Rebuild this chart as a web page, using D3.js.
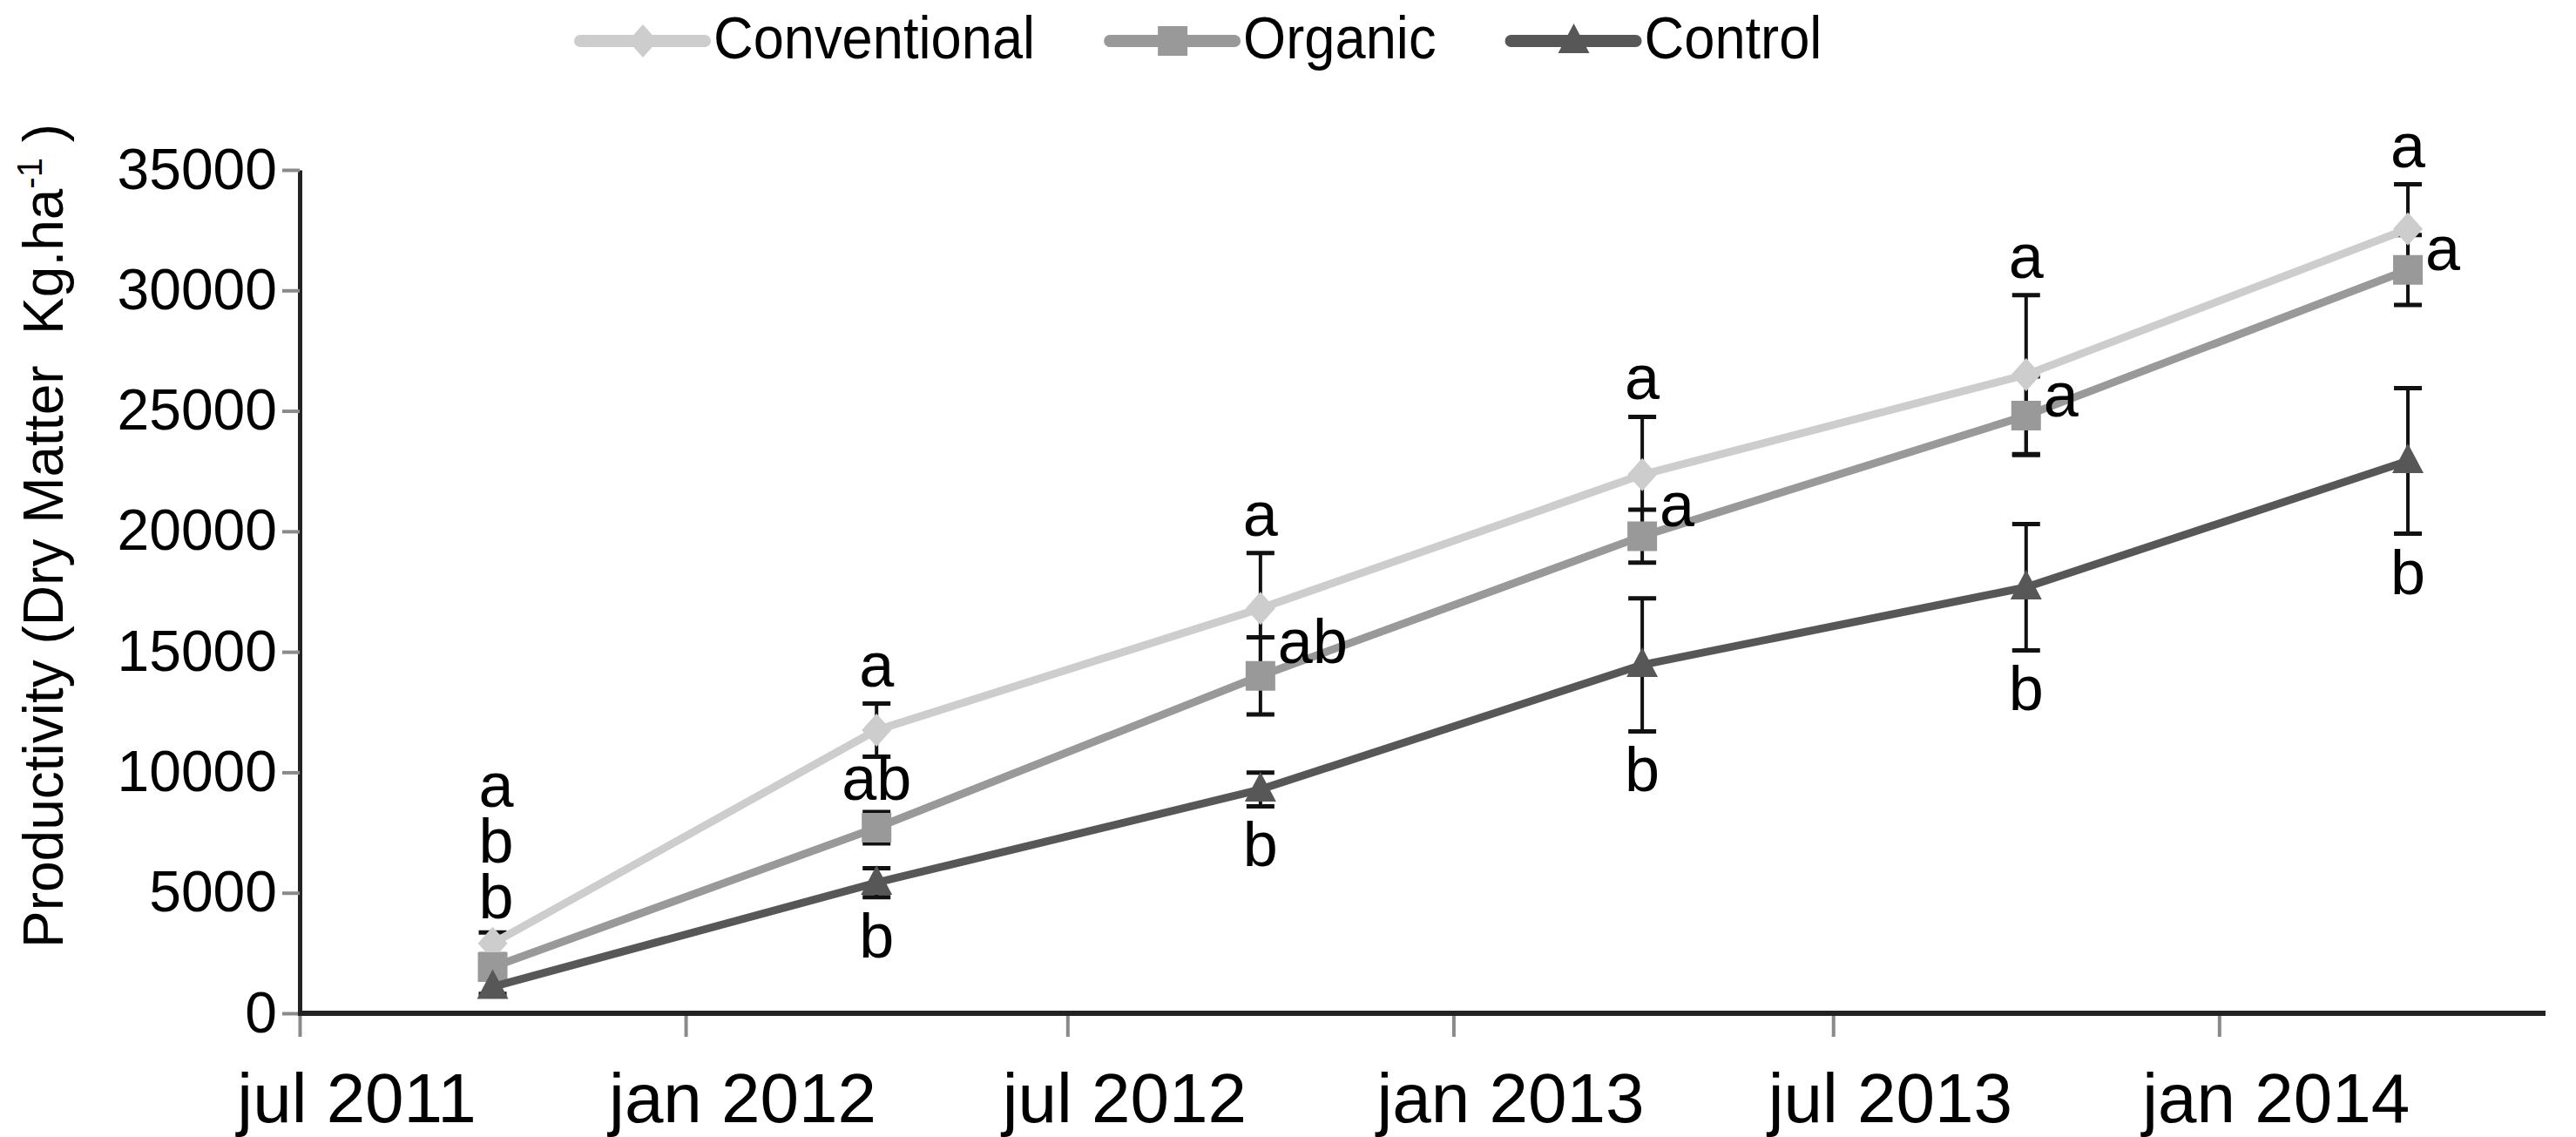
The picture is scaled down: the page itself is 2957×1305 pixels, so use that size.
<!DOCTYPE html>
<html>
<head>
<meta charset="utf-8">
<script src="https://cdn.jsdelivr.net/npm/d3@7"></script>
<style>
  body { margin: 0; background: #fff; }
  svg { display: block; }
  text { font-family: "Liberation Sans", Arial, sans-serif; white-space: pre; }
</style>
</head>
<body>
<div id="chart"></div>
<script>
(function(){

// ---- data ----
const dates = ["2011-10-01", "2012-04-01", "2012-10-01", "2013-04-01", "2013-10-01", "2014-04-01"];
const seriesNames = ["Conventional", "Organic", "Control"];

const conventional    = [2900, 11750, 16800, 22350, 26500, 32550];
const conventionalErr = [450, 1100, 2300, 2400, 3300, 1850];
const organic         = [1920, 7700, 14000, 19800, 24800, 30850];
const organicErr      = [500, 650, 1600, 1100, 1630, 1450];
const control         = [1100, 5420, 9290, 14460, 17680, 22920];
const controlErr      = [300, 600, 700, 2760, 2620, 3020];

const conventionalLetters = ["a", "a", "a", "a", "a", "a"];
const organicLetters      = ["b", "ab", "ab", "a", "a", "a"];
const controlLetters      = ["b", "b", "b", "b", "b", "b"];

const xTicks = ["2011-07-01", "2012-01-01", "2012-07-01", "2013-01-01", "2013-07-01", "2014-01-01"];
const yTicks = [0, 5000, 10000, 15000, 20000, 25000, 30000, 35000];
const xDomain = ["2011-07-01", "2014-07-01"];

const width = 2957;
const height = 1305;
const margin = {top: 195, right: 35, bottom: 142, left: 344};

const parse = d3.utcParse("%Y-%m-%d");
const fmt = d3.utcFormat("%b %Y");

const colors = ["#cdcdcd", "#999999", "#575757"];
const shapes = ["diamond", "square", "triangle"];

const series = seriesNames.map((name, i) => ({
  name: name,
  color: colors[i],
  shape: shapes[i],
  values: [conventional, organic, control][i],
  errs: [conventionalErr, organicErr, controlErr][i]
}));

const svg = d3.select("#chart")
  .append("svg")
  .attr("width", width)
  .attr("height", height);

svg.append("rect").attr("width", width).attr("height", height).attr("fill", "#fff");

// scales
const x = d3.scaleUtc()
  .domain(xDomain.map(parse))
  .range([margin.left, margin.left + 1096 * 2.408]);

const y = d3.scaleLinear()
  .domain([0, 35000])
  .range([height - margin.bottom, margin.top]);

// marker paths
function marker(shape) {
  if (shape === "diamond") return "M0,-19L17,0L0,19L-17,0Z";
  if (shape === "square") return "M-17,-17H17V17H-17Z";
  return "M0,-20L18,14H-18Z";
}

// y axis
const yAxis = svg.append("g")
  .attr("transform", `translate(${margin.left},0)`)
  .call(d3.axisLeft(y).tickValues(yTicks).tickSize(20).tickSizeOuter(0).tickPadding(6).tickFormat(d => d));

yAxis.select(".domain").attr("stroke", "#222").attr("stroke-width", 5);
yAxis.selectAll(".tick line").attr("stroke", "#8a8a8a").attr("stroke-width", 4);
yAxis.selectAll(".tick text")
  .attr("fill", "#000")
  .style("font-size", "66px")
  .style("font-family", "'Liberation Sans', Arial, sans-serif");

// x axis
const xAxis = svg.append("g")
  .attr("transform", `translate(0,${height - margin.bottom})`)
  .call(d3.axisBottom(x).tickValues(xTicks.map(parse)).tickSize(27).tickSizeOuter(0)
    .tickFormat(d => fmt(d).toLowerCase()));

xAxis.select(".domain").remove();
xAxis.selectAll(".tick line").attr("stroke", "#8a8a8a").attr("stroke-width", 4);
xAxis.selectAll(".tick text")
  .attr("fill", "#000")
  .attr("x", 65)
  .attr("y", 125)
  .attr("dy", 0)
  .style("font-size", "80px")
  .style("font-family", "'Liberation Sans', Arial, sans-serif");

xAxis.append("line")
  .attr("x1", margin.left - 2)
  .attr("x2", width - margin.right)
  .attr("stroke", "#222")
  .attr("stroke-width", 6);

// y axis title
const yTitle = svg.append("text")
  .attr("transform", `translate(72,1088) rotate(-90)`)
  .style("font-size", "64px")
  .attr("fill", "#000");
yTitle.append("tspan").text("Productivity (Dry Matter  Kg.ha");
yTitle.append("tspan").attr("dy", -24).style("font-size", "40px").text("-1");
yTitle.append("tspan").attr("dy", 24).text(" )");

// error bars
const bars = svg.append("g");
series.forEach(s => {
  dates.forEach((d, i) => {
    const cx = x(parse(d));
    const top = y(s.values[i] + s.errs[i]);
    const bot = y(s.values[i] - s.errs[i]);
    bars.append("line").attr("x1", cx).attr("x2", cx).attr("y1", top).attr("y2", bot)
      .attr("stroke", "#111").attr("stroke-width", 4);
    [top, bot].forEach(yy => {
      bars.append("line").attr("x1", cx - 16).attr("x2", cx + 16).attr("y1", yy).attr("y2", yy)
        .attr("stroke", "#111").attr("stroke-width", 5);
    });
  });
});

// lines + markers
const line = d3.line()
  .x(d => x(parse(d.date)))
  .y(d => y(d.value));

series.forEach(s => {
  const pts = dates.map((d, i) => ({date: d, value: s.values[i]}));
  svg.append("path")
    .datum(pts)
    .attr("fill", "none")
    .attr("stroke", s.color)
    .attr("stroke-width", 9)
    .attr("stroke-linejoin", "round")
    .attr("d", line);

  svg.selectAll(null)
    .data(pts)
    .enter()
    .append("path")
    .attr("transform", d => `translate(${x(parse(d.date))},${y(d.value)})`)
    .attr("d", marker(s.shape))
    .attr("fill", s.color);
});

// significance letters
const labels = svg.append("g").style("font-size", "72px").attr("fill", "#000");

dates.forEach((d, i) => {
  const cx = x(parse(d));
  const convTop = y(conventional[i] + conventionalErr[i]);
  const yConv = y(conventional[i]);
  const yOrg = y(organic[i]);
  const ctrlBot = y(control[i] - controlErr[i]);

  if (i === 0) {
    // first harvest: the three letters are stacked above the cluster
    const stack = labels.append("text")
      .attr("text-anchor", "middle");
    [conventionalLetters[i], organicLetters[i], controlLetters[i]].forEach((t, k) => {
      stack.append("tspan")
        .attr("x", cx + 4)
        .attr("y", convTop - 40 - 64 * (2 - k) + 24)
        .text(t);
    });
    return;
  }

  labels.append("text")
    .attr("x", cx)
    .attr("y", convTop - 40 + 20)
    .attr("text-anchor", "middle")
    .text(conventionalLetters[i]);

  labels.append("text")
    .attr("x", i === 1 ? cx : cx + 20)
    .attr("y", (yConv + yOrg) / 2 + 24)
    .attr("text-anchor", i === 1 ? "middle" : "start")
    .text(organicLetters[i]);

  labels.append("text")
    .attr("x", cx)
    .attr("y", ctrlBot + 43 + 26)
    .attr("text-anchor", "middle")
    .text(controlLetters[i]);
});

// legend
const legend = svg.append("g");
let lx = 666;
series.forEach(s => {
  const g = legend.append("g").attr("transform", `translate(${lx},47)`);
  g.append("line")
    .attr("x1", 0).attr("x2", 143)
    .attr("stroke", s.color)
    .attr("stroke-width", 14)
    .attr("stroke-linecap", "round");
  g.append("path")
    .attr("transform", "translate(72,0)")
    .attr("d", marker(s.shape))
    .attr("fill", s.color);
  const t = g.append("text")
    .attr("transform", "translate(153,20) scale(0.93,1)")
    .style("font-size", "68px")
    .attr("fill", "#000")
    .text(s.name);
  lx += 153 + t.node().getComputedTextLength() * 0.93 + 86;
});

})();
</script>
</body>
</html>
